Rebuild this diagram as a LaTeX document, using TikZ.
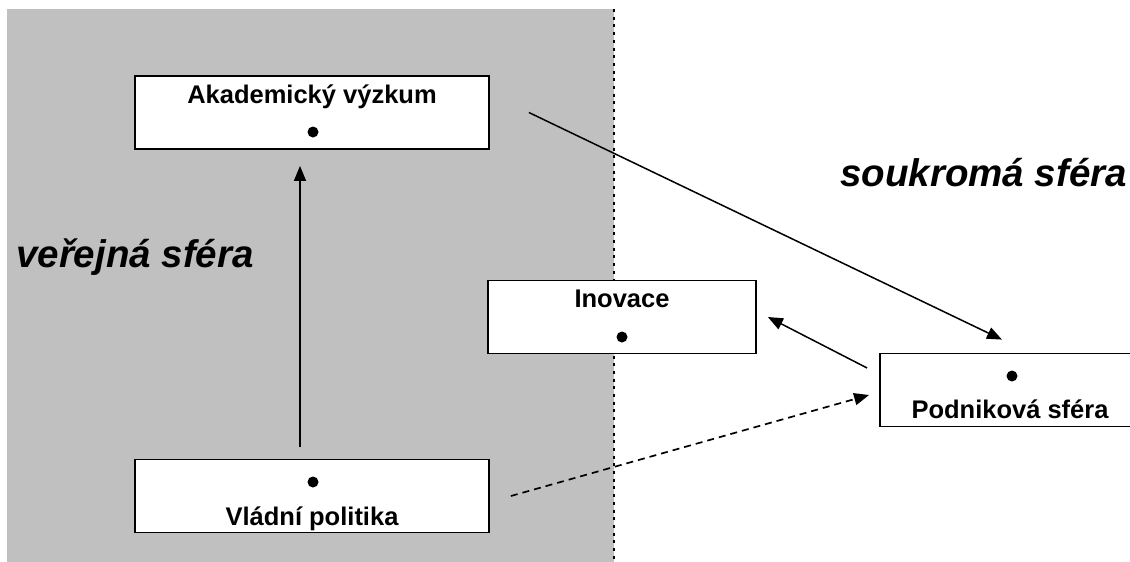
\documentclass[tikz,border=0pt]{standalone}
\usepackage{fontspec}
\setmainfont{Liberation Sans}
\usetikzlibrary{arrows.meta}
\definecolor{sphgray}{HTML}{C0C0C0}
\begin{document}
\begin{tikzpicture}[x=1pt,y=-1pt,
  box/.style={draw=black,line width=1.8pt,fill=white,inner sep=0pt,minimum width=#1,minimum height=73pt},
  box/.default=354pt,
  boxtext/.style={inner sep=0pt,anchor=base,font=\fontsize{25.5}{30}\selectfont\bfseries},
  sphere/.style={inner sep=0pt,anchor=base west,font=\fontsize{38.5}{46}\selectfont\bfseries\itshape},
  blob/.style={circle,fill=black,inner sep=0pt,minimum size=11pt},
  arr/.style={draw=black,line width=1.5pt,-{Triangle[length=15pt,width=12pt]}},
  darr/.style={arr,line width=1.7pt,dash pattern=on 7pt off 5pt}]
\useasboundingbox (0,0) rectangle (1130,562);
\clip (0,0) rectangle (1130,562);
% public sphere background
\fill[sphgray] (7,9) rectangle (614,562);
\draw[black,line width=1.5pt,dash pattern=on 3pt off 4.7pt] (614,9) -- (614,562);
% sphere labels
\node[sphere] (pub) at (16,267) {veřejná sféra};
\node[sphere] (priv) at (840,186) {soukromá sféra};
% boxes
\node[box] (akad) at (312,112.5) {};
\node[box=268pt] (inov) at (622,317) {};
\node[box=260pt] (podn) at (1010,390) {};
\node[box] (vlad) at (312,496) {};
% texts and dots
\node[boxtext] (akadT) at (312,103) {Akademický výzkum};
\node[blob] (akadD) at (313,132) {};
\node[boxtext] (inovT) at (622,307) {Inovace};
\node[blob] (inovD) at (622,337) {};
\node[blob] (podnD) at (1012,376) {};
\node[boxtext] (podnT) at (1010,418) {Podniková sféra};
\node[blob] (vladD) at (313,482) {};
\node[boxtext] (vladT) at (312,525) {Vládní politika};
% connectors
\draw[arr] ([xshift=-12pt,yshift=12pt]vlad.north) -- ([xshift=-12pt,yshift=-16pt]akad.south);
\draw[arr] ([xshift=39pt]akad.east) -- ([xshift=-8pt,yshift=13pt]podn.north);
\draw[arr] ([xshift=-12pt,yshift=22pt]podn.west) -- ([xshift=11pt]inov.east);
\draw[darr] ([xshift=21pt]vlad.east) -- ([xshift=-10pt,yshift=-5pt]podn.west);
\end{tikzpicture}
\end{document}
